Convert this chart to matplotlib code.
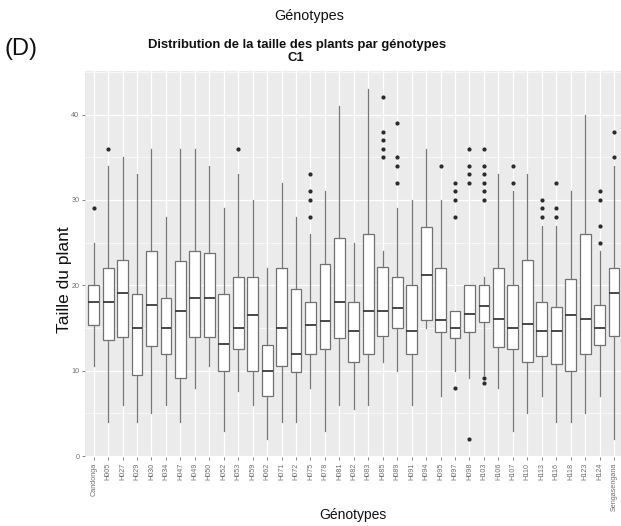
import matplotlib
matplotlib.use("Agg")
import matplotlib.pyplot as plt
from matplotlib.ticker import MultipleLocator

plt.rcParams['font.family'] = ['Liberation Sans', 'DejaVu Sans']

genotypes = ["Candonga", "H005", "H027", "H029", "H030", "H034", "H047", "H049", "H050",
             "H052", "H053", "H059", "H062", "H071", "H072", "H075", "H078", "H081", "H082",
             "H083", "H085", "H089", "H091", "H094", "H095", "H097", "H098", "H103", "H106",
             "H107", "H110", "H113", "H116", "H118", "H123", "H124", "Sengasengana"]

whisk_low = [10.6, 4, 6, 4, 5, 6, 4, 8, 10.6, 3, 7.6, 6, 2, 4, 4, 8, 3, 6, 5.5,
             6, 11, 10, 6, 15, 7, 10, 9.1, 9.5, 8, 3, 5, 7, 4, 4, 5, 7, 2]
q1 = [15.3, 13.6, 14, 9.5, 12.9, 12, 9.1, 14, 14, 10, 12.5, 10, 7, 10.5, 9.8, 12, 12.5, 13.8, 11,
      12, 14.1, 15, 12, 16, 14.5, 13.8, 14.5, 15.7, 12.8, 12.5, 11, 11.7, 10.8, 10, 12, 13, 14.1]
median = [18, 18, 19.1, 15, 17.7, 15, 17, 18.5, 18.5, 13.1, 15, 16.5, 10, 15, 12, 15.3, 15.8, 18.1, 14.6,
          17, 17, 17.3, 14.6, 21.2, 15.9, 15, 16.7, 17.6, 16.1, 15, 15.5, 14.6, 14.6, 16.5, 16.1, 15, 19.1]
q3 = [20, 22, 23, 19, 24, 18.5, 22.8, 24, 23.8, 19, 21, 21, 13, 22, 19.6, 18, 22.5, 25.5, 18,
      26, 22.2, 21, 20, 26.8, 22, 17, 20, 20, 22, 20, 23, 18, 17.5, 20.8, 26, 17.7, 22]
whisk_high = [25, 34, 35, 33, 36, 28, 36, 36, 34, 29, 33, 30, 22, 32, 28, 26, 31, 41, 25,
              43, 24, 29, 30, 36, 30, 17, 20, 21, 33, 31, 33, 27, 27, 31, 40, 24, 34]
outliers = [[29], [36], [], [], [], [], [], [], [], [], [36], [], [], [], [],
            [33, 31, 30, 28], [], [], [], [], [42, 38, 37, 36, 35], [39, 35, 34, 32], [], [], [34],
            [32, 31, 30, 28, 8], [36, 34, 33, 32, 2], [36, 34, 33, 32, 31, 30, 9.1, 8.6], [],
            [34, 32], [], [30, 29, 28], [32, 29, 28], [], [], [31, 30, 27, 25], [38, 35]]

stats = []
for i, g in enumerate(genotypes):
    stats.append(dict(label=g, med=median[i], q1=q1[i], q3=q3[i],
                      whislo=whisk_low[i], whishi=whisk_high[i], fliers=outliers[i]))

W, H = 621, 526
fig = plt.figure(figsize=(W / 100, H / 100), dpi=100)
fig.patch.set_facecolor('white')

left, right, top, bottom = 85, 622.7, 71, 457
ax = fig.add_axes([left / W, 1 - bottom / H, (right - left) / W, (bottom - top) / H])
ax.set_facecolor('#EBEBEB')
for s in ax.spines.values():
    s.set_visible(False)

positions = list(range(1, len(genotypes) + 1))
ax.bxp(stats, positions=positions, widths=0.75, patch_artist=True, showcaps=False,
       boxprops=dict(facecolor='white', edgecolor='#707070', linewidth=0.9),
       whiskerprops=dict(color='#777777', linewidth=0.9),
       medianprops=dict(color='#3a3a3a', linewidth=1.3),
       flierprops=dict(marker='o', markersize=2.0, markerfacecolor='#2a2a2a',
                       markeredgecolor='#2a2a2a'),
       zorder=3)

ax.set_xlim(0.4, len(genotypes) + 0.6)
ax.set_ylim(-0.1, 45.1)
ax.yaxis.set_major_locator(MultipleLocator(10))
ax.yaxis.set_minor_locator(MultipleLocator(5))
ax.set_xticks(positions)
ax.set_xticklabels(genotypes, rotation=90, fontsize=5.2, color='#707070')
ax.tick_params(axis='y', labelsize=5.2, colors='#707070', length=2.5, width=0.6, pad=1.5)
ax.tick_params(axis='x', colors='#707070', length=2.5, width=0.6, pad=1.5)
ax.tick_params(axis='y', which='minor', length=0)
ax.grid(True, which='major', color='white', linewidth=0.9, zorder=0)
ax.grid(True, which='minor', axis='y', color='white', linewidth=0.45, zorder=0)
ax.set_axisbelow(True)

fig.text(309 / W, 1 - 16 / H, "Génotypes", ha='center', va='center', fontsize=10.4, color='#111111')
fig.text(5 / W, 1 - 49 / H, "(D)", ha='left', va='center', fontsize=17, color='#111111')
fig.text(297 / W, 1 - 45 / H, "Distribution de la taille des plants par génotypes",
         ha='center', va='center', fontsize=9.4, fontweight='bold', color='#111111')
fig.text(296 / W, 1 - 58 / H, "C1", ha='center', va='center', fontsize=9.4,
         fontweight='bold', color='#111111')
fig.text(65 / W, 1 - 280 / H, "Taille du plant", ha='center', va='center', rotation=90,
         fontsize=12.5, color='#111111')
fig.text(353 / W, 1 - 515 / H, "Génotypes", ha='center', va='center', fontsize=10, color='#111111')

fig.savefig("out.png", dpi=100)
